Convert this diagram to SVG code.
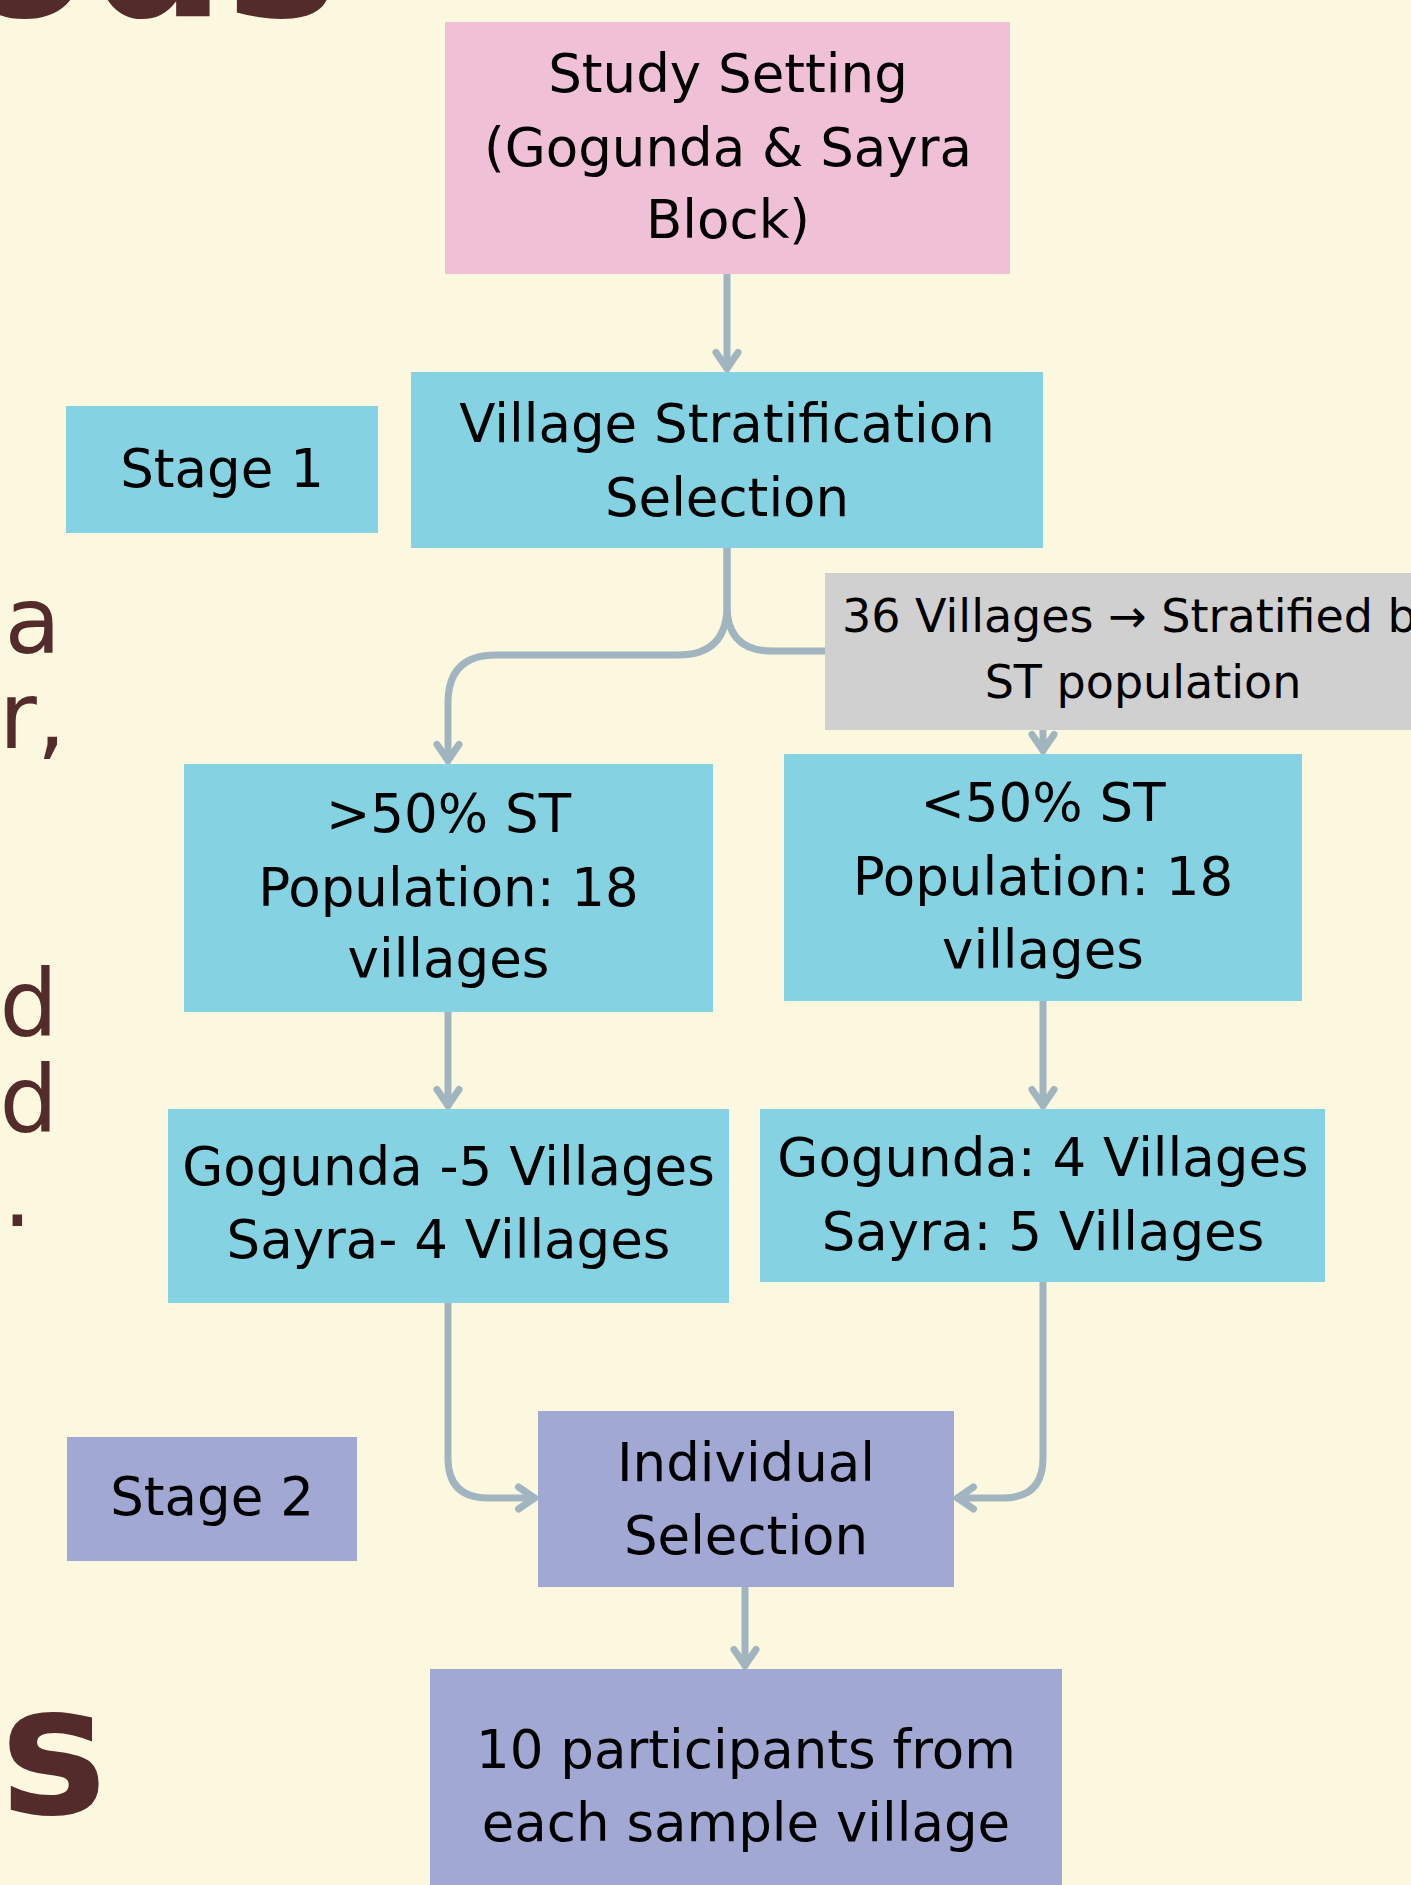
<svg xmlns="http://www.w3.org/2000/svg" width="1411" height="1885" viewBox="0 0 1411 1885">
<style>
.bg{fill:#FCF7DF}
.t{font-family:"DejaVu Sans","Liberation Sans",sans-serif;font-size:53px;fill:#000;text-anchor:middle}
.ts{font-size:46px}
.pink{fill:#F0C0D6}
.blue{fill:#85D2E2}
.gray{fill:#D0D0D0}
.purple{fill:#A1A8D3}
.conn path{fill:none;stroke:#A0B5C0;stroke-width:7;stroke-linecap:round;stroke-linejoin:round}
.bgtxt{font-family:"DejaVu Sans","Liberation Sans",sans-serif;fill:#532B2A}
.side{font-size:92px;text-anchor:end}
</style>
<defs>
<marker id="ah" viewBox="-24 -16 30 32" refX="0" refY="0" markerWidth="30" markerHeight="32" markerUnits="userSpaceOnUse" orient="auto">
<path d="M-16,-11 L0,0 L-16,11" fill="none" stroke="#A0B5C0" stroke-width="7" stroke-linecap="round" stroke-linejoin="round"/>
</marker>
</defs>
<rect class="bg" x="0" y="0" width="1411" height="1885"/>
<g id="background-text">
<text class="bgtxt" x="-41" y="16" font-size="190" font-weight="bold">ods</text>
<text class="bgtxt side" x="61" y="653">a</text>
<text class="bgtxt side" x="66" y="748">r,</text>
<text class="bgtxt side" x="58" y="1036">d</text>
<text class="bgtxt side" x="58" y="1132">d</text>
<text class="bgtxt side" x="32" y="1226">.</text>
<text class="bgtxt" x="0" y="1813" font-size="180" font-weight="bold">s</text>
</g>
<g id="connectors" class="conn">
<path d="M727,274 V368.5" marker-end="url(#ah)"/>
<path d="M727,548 V606 Q727,655 678,655 H496 Q448,655 448,703 V760.5" marker-end="url(#ah)"/>
<path d="M727,548 V606 Q727,651 772,651 H998 Q1043,651 1043,696 V750.5" marker-end="url(#ah)"/>
<path d="M448,1012 V1105.5" marker-end="url(#ah)"/>
<path d="M1043,1001 V1105.5" marker-end="url(#ah)"/>
<path d="M448,1303 V1458 Q448,1498 488,1498 H534.5" marker-end="url(#ah)"/>
<path d="M1043,1282 V1458 Q1043,1498 1003,1498 H957.5" marker-end="url(#ah)"/>
<path d="M745,1587 V1665.5" marker-end="url(#ah)"/>
</g>
<g id="study-setting">
<rect class="pink" x="445" y="22" width="565" height="252"/>
<text class="t" x="728" y="92">Study Setting</text>
<text class="t" x="728" y="166">(Gogunda &amp; Sayra</text>
<text class="t" x="728" y="238">Block)</text>
</g>
<g id="stage1">
<rect class="blue" x="66" y="406" width="312" height="127"/>
<text class="t" x="222" y="487">Stage 1</text>
</g>
<g id="village-stratification">
<rect class="blue" x="411" y="372" width="632" height="176"/>
<text class="t" x="727" y="442">Village Stratification</text>
<text class="t" x="727" y="516">Selection</text>
</g>
<g id="stratified-note">
<rect class="gray" x="825" y="573" width="600" height="157"/>
<text class="t ts" x="1143" y="632">36 Villages → Stratified by</text>
<text class="t ts" x="1143" y="698">ST population</text>
</g>
<g id="above50">
<rect class="blue" x="184" y="764" width="529" height="248"/>
<text class="t" x="448.5" y="832">&gt;50% ST</text>
<text class="t" x="448.5" y="906">Population: 18</text>
<text class="t" x="448.5" y="977">villages</text>
</g>
<g id="below50">
<rect class="blue" x="784" y="754" width="518" height="247"/>
<text class="t" x="1043" y="821">&lt;50% ST</text>
<text class="t" x="1043" y="895">Population: 18</text>
<text class="t" x="1043" y="968">villages</text>
</g>
<g id="left-villages">
<rect class="blue" x="168" y="1109" width="561" height="194"/>
<text class="t" x="448.5" y="1185">Gogunda -5 Villages</text>
<text class="t" x="448.5" y="1258">Sayra- 4 Villages</text>
</g>
<g id="right-villages">
<rect class="blue" x="760" y="1109" width="565" height="173"/>
<text class="t" x="1043" y="1176">Gogunda: 4 Villages</text>
<text class="t" x="1043" y="1250">Sayra: 5 Villages</text>
</g>
<g id="stage2">
<rect class="purple" x="67" y="1437" width="290" height="124"/>
<text class="t" x="212" y="1515">Stage 2</text>
</g>
<g id="individual-selection">
<rect class="purple" x="538" y="1411" width="416" height="176"/>
<text class="t" x="746" y="1481">Individual</text>
<text class="t" x="746" y="1554">Selection</text>
</g>
<g id="participants">
<rect class="purple" x="430" y="1669" width="632" height="230"/>
<text class="t" x="746" y="1768">10 participants from</text>
<text class="t" x="746" y="1841">each sample village</text>
</g>
</svg>
